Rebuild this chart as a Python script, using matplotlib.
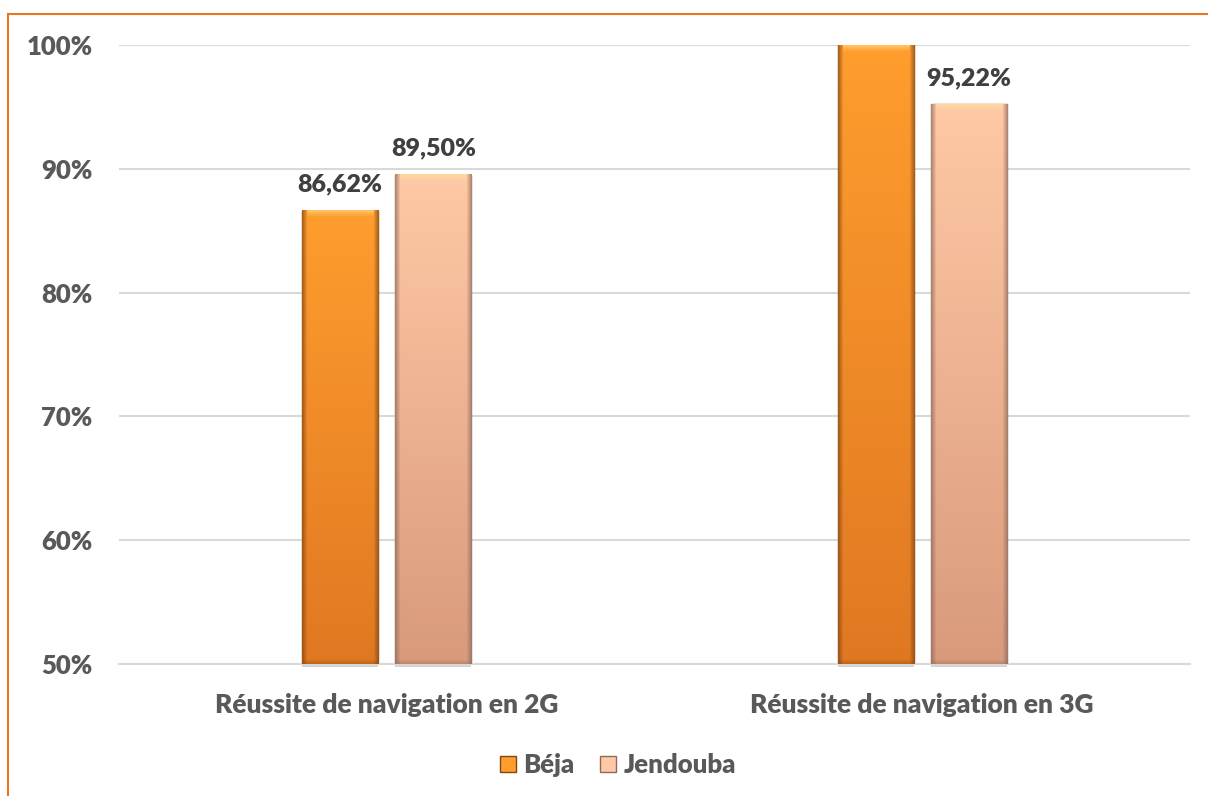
import numpy as np
import matplotlib
matplotlib.use("Agg")
import matplotlib.pyplot as plt
from matplotlib.patches import Patch, Rectangle
from matplotlib.colors import to_rgb

categories = ["Réussite de navigation en 2G", "Réussite de navigation en 3G"]
series_names = ["Béja", "Jendouba"]
beja = [86.62, 100.00]
jendouba = [89.50, 95.22]
labels_beja = ["86,62%", None]
labels_jendouba = ["89,50%", "95,22%"]
yticks = [50, 60, 70, 80, 90, 100]

plt.rcParams["font.family"] = ["Lato", "DejaVu Sans"]
plt.rcParams["font.weight"] = 800

fig = plt.figure(figsize=(12.08, 7.96), dpi=100)
ax = fig.add_axes([119 / 1208, 132 / 796, 1071 / 1208, 619 / 796])

# colours: (top, bottom, edge)
styles = {
    "Béja": ("#ff9d2e", "#e07822", "#7f4612"),
    "Jendouba": ("#ffc9a5", "#d99a7c", "#8c6a5c"),
}

x = np.arange(len(categories))
width = 0.142
offset = 0.087
ymin, ymax = 50, 100


def gradient_image(top, bottom, edge, height):
    rows = max(int(height * 12), 8)
    cols = 76
    t = np.linspace(0, 1, rows)[:, None]
    top_c = np.array(to_rgb(top))
    bot_c = np.array(to_rgb(bottom))
    img = top_c * (1 - t[..., None]) + bot_c * t[..., None]
    img = np.repeat(img, cols, axis=1)
    edge_c = np.array(to_rgb(edge))
    bev = 5
    for i in range(bev):
        f = 0.7 * (1 - i / bev)
        img[:, i] = img[:, i] * (1 - f) + edge_c * f
        img[:, cols - 1 - i] = img[:, cols - 1 - i] * (1 - f) + edge_c * f
    # lighter top bevel
    for i in range(6):
        f = 0.5 * (1 - i / 6)
        img[i, bev:cols - bev] = img[i, bev:cols - bev] * (1 - f) + np.array([1.0, 0.92, 0.6]) * f
    # slightly darker bottom
    for i in range(4):
        f = 0.35 * (1 - i / 4)
        img[rows - 1 - i] = img[rows - 1 - i] * (1 - f) + edge_c * f
    return img


for name, vals, pos in [("Béja", beja, x - offset), ("Jendouba", jendouba, x + offset)]:
    top, bottom, edge = styles[name]
    bars = ax.bar(pos, [v - ymin for v in vals], width, bottom=ymin,
                  color=top, edgecolor=edge, linewidth=1.0, zorder=2)
    for b in bars:
        x0, y0 = b.get_x(), b.get_y()
        w, h = b.get_width(), b.get_height()
        img = gradient_image(top, bottom, edge, h)
        ax.imshow(img, extent=[x0, x0 + w, y0, y0 + h], aspect="auto",
                  origin="upper", zorder=3, interpolation="bilinear")
        # soft shadow below bar
        ax.add_patch(Rectangle((x0, y0 - 0.25), w, 0.25, color="#bbbbbb",
                               alpha=0.6, zorder=1, clip_on=False, lw=0))

for pos, vals, labs in [(x - offset, beja, labels_beja), (x + offset, jendouba, labels_jendouba)]:
    for p, v, lab in zip(pos, vals, labs):
        if lab:
            ax.annotate(lab, (p, v), xytext=(0, 11), textcoords="offset points",
                        ha="center", va="bottom", fontsize=18, fontweight=800,
                        color="#404040", zorder=5)

ax.set_xlim(-0.5, 1.5)
ax.set_ylim(ymin, ymax)
ax.set_yticks(yticks)
ax.set_yticklabels([f"{t}%" for t in yticks])
ax.set_xticks(x)
ax.set_xticklabels(categories)
ax.tick_params(axis="y", length=0, pad=19, labelsize=18.5, labelcolor="#595959")
ax.tick_params(axis="x", length=0, pad=21, labelsize=19, labelcolor="#595959")
for lab in ax.get_xticklabels() + ax.get_yticklabels():
    lab.set_fontweight(800)
ax.yaxis.grid(True, color="#d9d9d9", linewidth=1.5, zorder=0)
ax.set_axisbelow(True)
for s in ["top", "right", "left"]:
    ax.spines[s].set_visible(False)
ax.spines["bottom"].set_color("#d9d9d9")
ax.spines["bottom"].set_linewidth(1.5)

handles = [Patch(facecolor=styles[n][0], edgecolor=styles[n][2], label=n) for n in series_names]
leg = fig.legend(handles=handles, loc="center", bbox_to_anchor=(618 / 1208, 1 - 765 / 796),
                 ncol=2, frameon=False, handlelength=0.6, handleheight=0.6,
                 handletextpad=0.3, columnspacing=1.0,
                 prop={"size": 18.5, "weight": 800})
for t in leg.get_texts():
    t.set_color("#595959")

# orange frame (top and left edges visible)
fig.add_artist(Rectangle((8 / 1208, -0.1), 1.2, (796 - 14) / 796 + 0.1,
                         transform=fig.transFigure, fill=False,
                         edgecolor="#e87722", linewidth=1.5))

fig.savefig("out.png", dpi=100)
